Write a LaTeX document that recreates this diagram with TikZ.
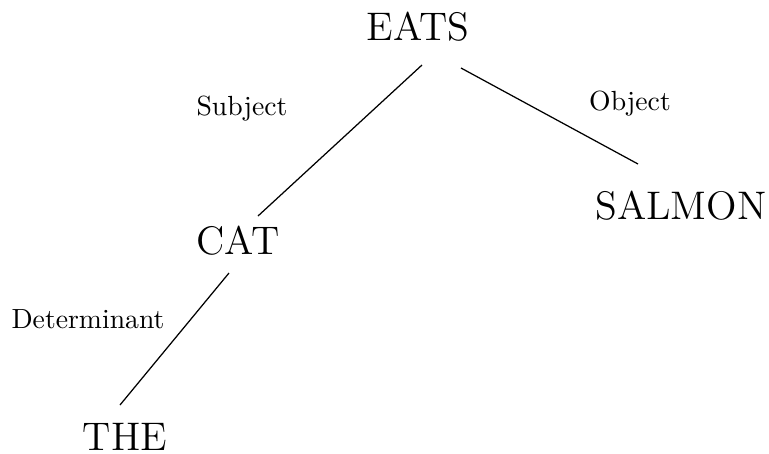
\documentclass[tikz,border=0pt]{standalone}
\usetikzlibrary{calc}
\begin{document}
\begin{tikzpicture}[x=0.361pt, y=-0.361pt,
  word/.style={font=\Large, inner sep=0pt, anchor=base},
  rel/.style={font=\normalsize, inner sep=0pt, anchor=base},
  link/.style={line width=0.45pt}]
  \useasboundingbox (0,0) rectangle (769,454);
  % words of the sentence
  \node[word] (eats)   at (418,40)  {EATS};
  \node[word] (salmon) at (681,219) {SALMON};
  \node[word] (cat)    at (238,254) {CAT};
  \node[word] (the)    at (125,450) {THE};
  % dependency labels
  \node[rel] (subj) at (242,115) {Subject};
  \node[rel] (obj)  at (630,110) {Object};
  \node[rel] (det)  at (88,328)  {Determinant};
  % dependency arcs
  \draw[link] ($(eats.base)+(4,25)$)  -- ($(cat.base)+(20,-38)$);
  \draw[link] ($(eats.base)+(43,28)$) -- ($(salmon.base)+(-43,-55)$);
  \draw[link] ($(cat.base)+(-9,19)$)  -- ($(the.base)+(-5,-45)$);
\end{tikzpicture}
\end{document}
